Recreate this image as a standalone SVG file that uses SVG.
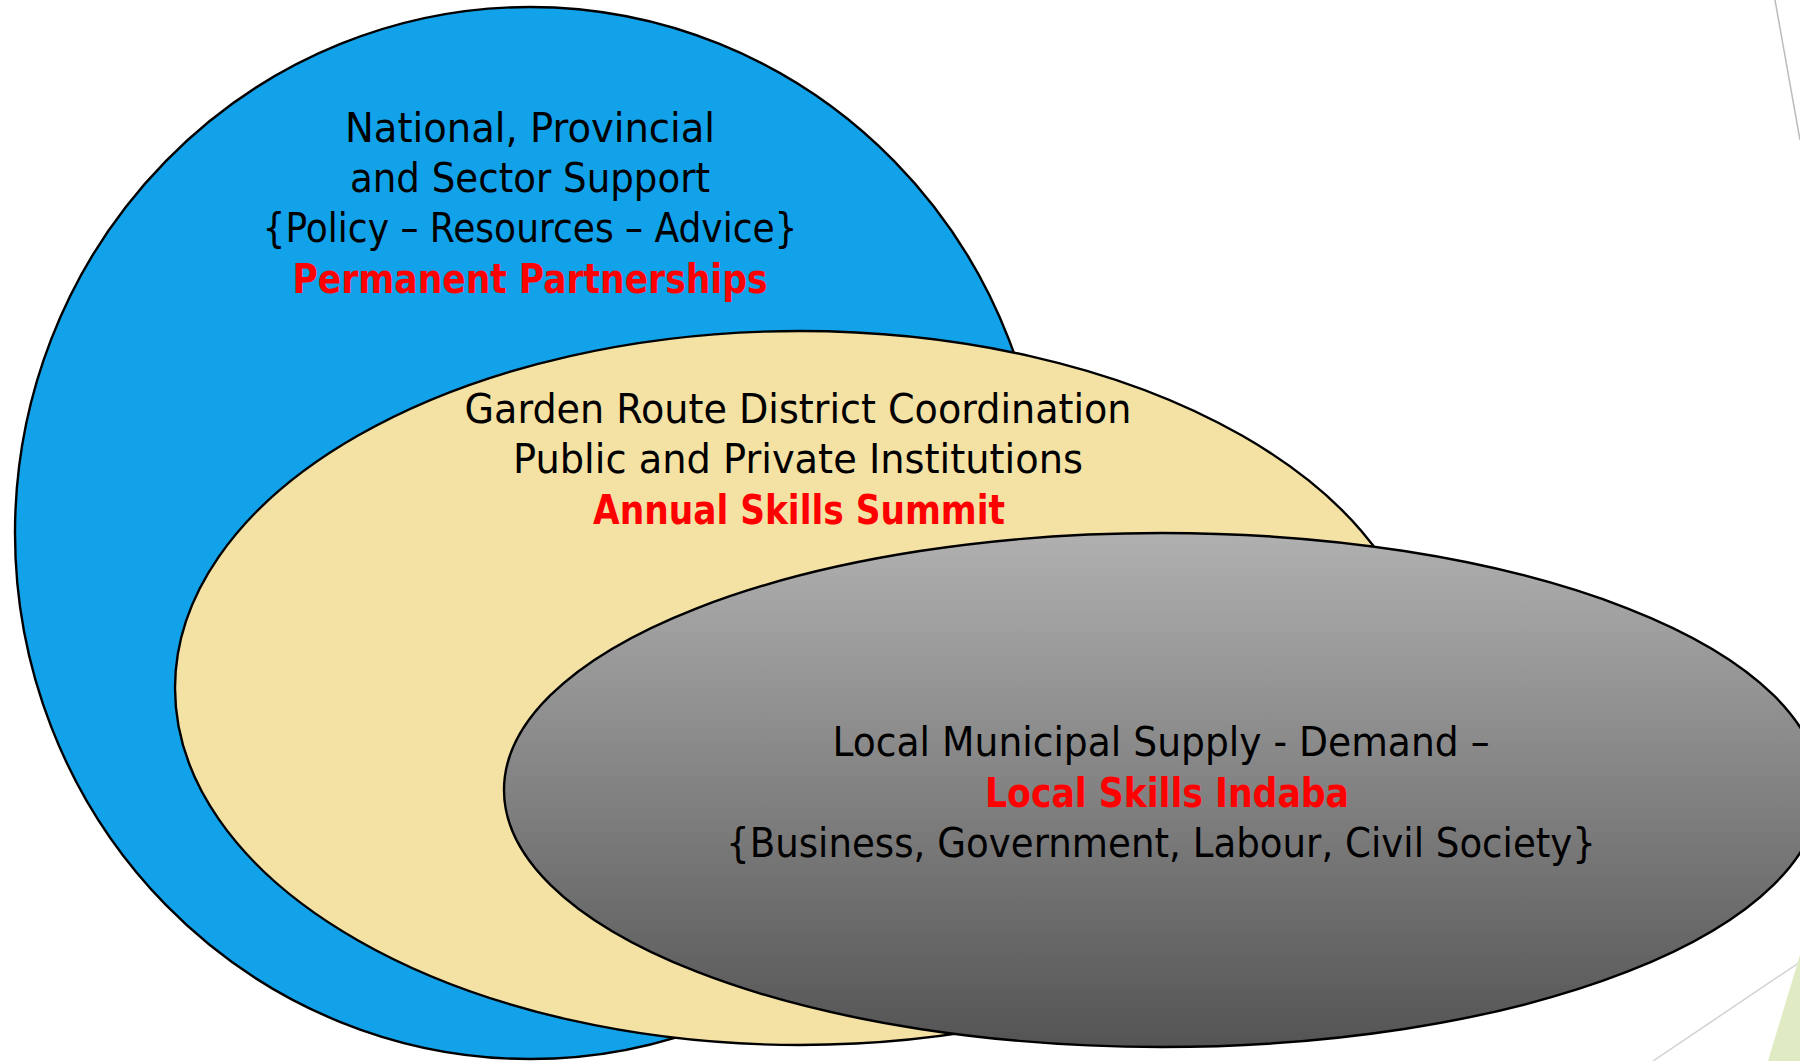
<svg xmlns="http://www.w3.org/2000/svg" width="1800" height="1061" viewBox="0 0 1800 1061">
  <defs>
    <linearGradient id="grayGrad" x1="0" y1="0" x2="0" y2="1">
      <stop offset="0" stop-color="#b0b0b0"/>
      <stop offset="1" stop-color="#545454"/>
    </linearGradient>
    <style>
      .shape { stroke: #000000; stroke-width: 2.4; }
      .t { font-family: "DejaVu Sans", "Liberation Sans", sans-serif; font-size: 41px; fill: #000000; text-anchor: middle; }
      .r { font-family: "DejaVu Sans Condensed", "DejaVu Sans", "Liberation Sans", sans-serif; font-size: 41px; font-weight: bold; fill: #ff0000; text-anchor: middle; }
      .deco { fill: none; stroke-width: 1.5; }
    </style>
  </defs>
  <rect width="1800" height="1061" fill="#ffffff"/>

  <g id="decoration">
    <line class="deco" x1="1775" y1="0" x2="1800" y2="140" stroke="#bcbcbc"/>
    <line class="deco" x1="1653" y1="1061" x2="1800" y2="962" stroke="#d2d2d2"/>
    <polygon points="1800,955 1800,1061 1768,1061" fill="#e0ebc3"/>
  </g>

  <g id="national">
    <ellipse class="shape" cx="530" cy="533" rx="515" ry="526" fill="#12a2ea"/>
    <text class="t" x="530" y="142" textLength="370" lengthAdjust="spacingAndGlyphs">National, Provincial</text>
    <text class="t" x="530" y="192" textLength="360" lengthAdjust="spacingAndGlyphs">and Sector Support</text>
    <text class="t" x="530" y="242" textLength="535" lengthAdjust="spacingAndGlyphs">{Policy – Resources – Advice}</text>
    <text class="r" x="530" y="293" textLength="475" lengthAdjust="spacingAndGlyphs">Permanent Partnerships</text>
  </g>

  <g id="district">
    <ellipse class="shape" cx="800" cy="688" rx="625" ry="357" fill="#f4e1a4"/>
    <text class="t" x="798" y="423" textLength="667" lengthAdjust="spacingAndGlyphs">Garden Route District Coordination</text>
    <text class="t" x="798" y="473" textLength="570" lengthAdjust="spacingAndGlyphs">Public and Private Institutions</text>
    <text class="r" x="799" y="524" textLength="412" lengthAdjust="spacingAndGlyphs">Annual Skills Summit</text>
  </g>

  <g id="local">
    <ellipse class="shape" cx="1162" cy="790" rx="658" ry="257" fill="url(#grayGrad)"/>
    <text class="t" x="1161" y="756" textLength="657" lengthAdjust="spacingAndGlyphs">Local Municipal Supply - Demand –</text>
    <text class="r" x="1167" y="807" textLength="364" lengthAdjust="spacingAndGlyphs">Local Skills Indaba</text>
    <text class="t" x="1161" y="857" textLength="870" lengthAdjust="spacingAndGlyphs">{Business, Government, Labour, Civil Society}</text>
  </g>

  <g id="connectors"/>
</svg>
